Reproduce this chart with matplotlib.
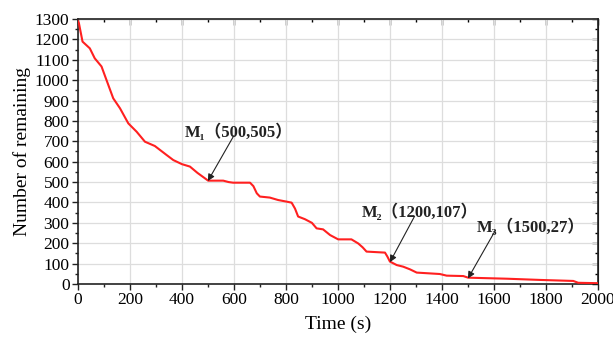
import numpy as np
import matplotlib
matplotlib.use("Agg")
import matplotlib.pyplot as plt
from matplotlib.ticker import MultipleLocator

# values
time_s = [0, 4, 18, 46, 65, 91, 110, 136, 162, 194, 226, 258, 296, 341, 367,
          400, 431, 460, 501, 559, 580, 597, 662, 675, 688, 700, 738, 770,
          803, 822, 835, 847, 873, 900, 918, 943, 970, 1001, 1052, 1078, 1095,
          1110, 1181, 1190, 1200, 1226, 1251, 1277, 1303, 1392, 1418, 1482,
          1501, 1649, 1777, 1905, 1924, 2000]
remaining = [1290, 1280, 1189, 1156, 1107, 1067, 1001, 911, 862, 788, 747, 698,
             677, 633, 608, 588, 576, 545, 507, 507, 500, 497, 497, 480, 445,
             429, 424, 412, 404, 399, 370, 331, 318, 300, 273, 268, 240, 219,
             219, 199, 180, 159, 154, 135, 110, 93, 85, 72, 56, 49, 41, 39, 31,
             26, 20, 15, 6, 4]

marks = ["M₁（500,505）", "M₂（1200,107）", "M₃（1500,27）"]
mark_pts = [(500, 505), (1200, 107), (1500, 27)]
text_pts = [(412, 745), (1090, 352), (1535, 280)]
arrow_from = [(600, 728), (1295, 333), (1605, 262)]

serif = ["Liberation Serif", "DejaVu Serif", "Noto Sans CJK SC"]
plt.rcParams["font.family"] = serif

fig = plt.figure(figsize=(6.13, 3.44), dpi=100)
ax = fig.add_axes([0.127, 0.1744, 0.8485, 0.7704])

ax.plot(time_s, remaining, color="#ff2020", lw=1.5, zorder=3)

for lab, p, a, t in zip(marks, mark_pts, arrow_from, text_pts):
    ax.annotate("", xy=p, xytext=a,
                arrowprops=dict(arrowstyle="-|>", color="#222222", lw=0.8,
                                mutation_scale=10, shrinkA=0, shrinkB=0),
                zorder=4)
    ax.text(t[0], t[1], lab, fontsize=12, fontweight="bold", va="center",
            ha="left", family=serif, color="#222222", zorder=5)

ax.set_xlim(0, 2000)
ax.set_ylim(0, 1300)
ax.xaxis.set_major_locator(MultipleLocator(200))
ax.xaxis.set_minor_locator(MultipleLocator(100))
ax.yaxis.set_major_locator(MultipleLocator(100))
ax.yaxis.set_minor_locator(MultipleLocator(50))
ax.grid(True, which="major", color="#dddddd", lw=0.9, zorder=0)
ax.set_axisbelow(True)

ax.tick_params(which="both", direction="out", top=False, right=False,
               labelsize=12.5, color="#222222", width=1.0, pad=2)
ax.tick_params(which="major", length=4)
ax.tick_params(which="minor", length=2.5)
for s in ax.spines.values():
    s.set_linewidth(1.2)
    s.set_color("#222222")

# inner ticks on top and right like the original
ax2 = ax.secondary_xaxis("top")
ax2.xaxis.set_major_locator(MultipleLocator(200))
ax2.xaxis.set_minor_locator(MultipleLocator(100))
ax2.tick_params(which="both", direction="in", labeltop=False, width=1.0)
ax2.tick_params(which="major", length=4)
ax2.tick_params(which="minor", length=2.5)
ay2 = ax.secondary_yaxis("right")
ay2.yaxis.set_major_locator(MultipleLocator(100))
ay2.yaxis.set_minor_locator(MultipleLocator(50))
ay2.tick_params(which="both", direction="in", labelright=False, width=1.0)
ay2.tick_params(which="major", length=4)
ay2.tick_params(which="minor", length=2.5)

ax.set_xlabel("Time (s)", fontsize=14, labelpad=5)
ax.set_ylabel("Number of remaining", fontsize=14, labelpad=3)

fig.savefig("out.png", dpi=100)
